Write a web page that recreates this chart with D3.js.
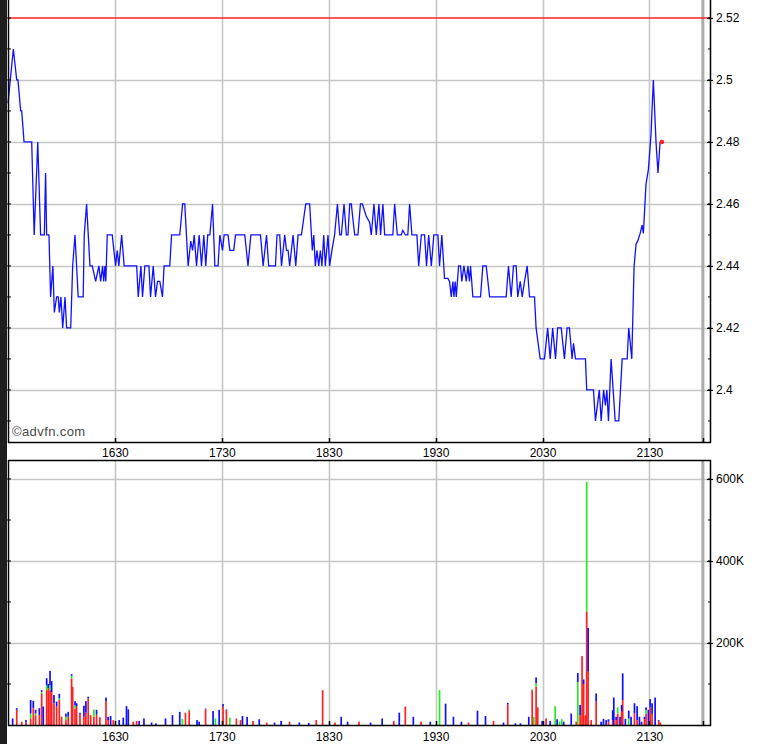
<!DOCTYPE html>
<html>
<head>
<meta charset="utf-8">
<script src="https://cdn.jsdelivr.net/npm/d3@7"></script>
<style>
  html, body { margin: 0; padding: 0; background: #ffffff; }
  svg { display: block; }
  text { font-family: "Liberation Sans", Arial, sans-serif; }
</style>
</head>
<body>
<svg id="chart" width="757" height="744"></svg>
<script>
// ---------------- DATA ----------------
// session: times are minutes after 15:30
const sessionStart = "15:30";
const sessionEnd = "22:04";
const marketClose = "22:00";
const prevClose = 2.52;
const lastPrice = 2.48;
const lastTime = 367;

const priceTimes = [
  0, 3.0, 4.9, 5.6, 7.1, 7.7, 9.0, 13.3, 14.7, 16.7, 18.3, 20.4, 21.1, 21.7, 23.0, 23.9, 25.2, 26.0, 27.3, 28.2,
  28.8, 29.7, 30.7, 32.0, 32.9, 35.2, 36.3, 37.6, 39.4, 42.2, 42.8, 44.1, 46.0, 47.3, 49.2, 51.0, 52.0, 53.1, 53.7, 54.4,
  54.9, 55.7, 58.5, 60.4, 61.3, 62.2, 63.8, 65.2, 72.2, 73.1, 74.6, 75.5, 76.8, 79.1, 80.0, 81.5, 82.8, 83.9, 85.2, 86.7,
  87.6, 90.8, 91.8, 96.4, 98.0, 99.2, 101.1, 102.6, 103.6, 104.5, 105.8, 107.3, 108.6, 109.9, 111.0, 112.1, 113.3, 114.8, 116.1, 117.9,
  118.9, 120.4, 121.3, 123.5, 124.5, 126.7, 127.7, 130.5, 132.9, 134.7, 136.3, 141.7, 143.2, 145.1, 146.3, 150.1, 151.0, 152.5, 153.5, 155.3,
  156.3, 157.2, 158.1, 160.0, 161.5, 162.8, 164.7, 167.1, 169.3, 170.8, 171.6, 172.5, 173.4, 174.4, 175.3, 176.2, 177.2, 178.1, 179.6, 180.5,
  181.8, 183.3, 184.9, 186.2, 187.1, 188.6, 189.9, 190.8, 191.8, 192.7, 193.6, 194.6, 196.4, 197.8, 198.9, 201.1, 203.0, 203.9, 205.4, 206.7,
  208.2, 209.1, 210.4, 211.4, 216.0, 217.0, 218.5, 220.7, 221.6, 223.0, 224.4, 225.4, 226.7, 229.5, 230.5, 232.0, 233.8, 234.9, 236.1, 237.6,
  239.0, 241.3, 242.2, 243.5, 245.0, 246.9, 247.8, 248.8, 249.7, 250.3, 251.0, 251.6, 252.9, 254.0, 254.7, 255.9, 257.2, 258.1, 259.0, 259.6,
  260.9, 265.2, 266.5, 268.4, 270.3, 279.6, 280.9, 282.4, 283.7, 285.2, 286.1, 287.5, 288.6, 289.9, 291.4, 292.7, 295.5, 296.4, 298.7, 301.1,
  302.9, 304.3, 305.7, 307.3, 308.5, 310.5, 312.3, 313.8, 315.1, 316.6, 317.4, 318.5, 324.1, 324.8, 328.6, 329.7, 331.9, 332.9, 334.3, 335.3,
  336.1, 337.0, 338.5, 340.8, 342.8, 344.7, 347.5, 348.4, 350.1, 351.4, 352.5, 353.4, 354.8, 355.9, 356.6, 358.1, 359.4, 360.9, 362.2, 363.7,
  364.8, 366.0
];
const priceValues = [
  2.4925, 2.51, 2.50, 2.50, 2.49, 2.49, 2.48, 2.48, 2.45, 2.48, 2.45, 2.45, 2.47, 2.45, 2.45, 2.43, 2.44, 2.425, 2.43, 2.43,
  2.425, 2.43, 2.42, 2.43, 2.42, 2.42, 2.44, 2.45, 2.43, 2.43, 2.45, 2.46, 2.44, 2.44, 2.435, 2.44, 2.435, 2.44, 2.435, 2.44,
  2.435, 2.45, 2.45, 2.44, 2.445, 2.44, 2.45, 2.44, 2.44, 2.43, 2.44, 2.43, 2.44, 2.44, 2.43, 2.44, 2.43, 2.435, 2.435, 2.43,
  2.44, 2.44, 2.45, 2.45, 2.46, 2.46, 2.44, 2.448, 2.445, 2.45, 2.44, 2.45, 2.44, 2.45, 2.44, 2.45, 2.45, 2.46, 2.44, 2.44,
  2.45, 2.445, 2.45, 2.45, 2.445, 2.445, 2.45, 2.45, 2.45, 2.44, 2.45, 2.45, 2.44, 2.45, 2.44, 2.44, 2.45, 2.45, 2.44, 2.45,
  2.445, 2.445, 2.44, 2.45, 2.44, 2.45, 2.45, 2.46, 2.46, 2.445, 2.45, 2.44, 2.445, 2.44, 2.445, 2.44, 2.45, 2.44, 2.45, 2.44,
  2.445, 2.45, 2.46, 2.45, 2.45, 2.46, 2.45, 2.45, 2.46, 2.46, 2.455, 2.45, 2.45, 2.46, 2.46, 2.456, 2.454, 2.45, 2.46, 2.45,
  2.46, 2.45, 2.46, 2.45, 2.45, 2.46, 2.45, 2.45, 2.4515, 2.45, 2.45, 2.46, 2.45, 2.45, 2.44, 2.45, 2.45, 2.44, 2.45, 2.44,
  2.45, 2.45, 2.44, 2.45, 2.436, 2.436, 2.435, 2.43, 2.435, 2.43, 2.435, 2.43, 2.44, 2.44, 2.435, 2.44, 2.435, 2.44, 2.435, 2.44,
  2.43, 2.43, 2.44, 2.44, 2.43, 2.43, 2.44, 2.43, 2.44, 2.44, 2.43, 2.435, 2.43, 2.435, 2.44, 2.43, 2.43, 2.42, 2.41, 2.41,
  2.42, 2.41, 2.42, 2.41, 2.42, 2.42, 2.41, 2.42, 2.42, 2.41, 2.415, 2.41, 2.41, 2.40, 2.40, 2.39, 2.40, 2.39, 2.40, 2.395,
  2.40, 2.39, 2.41, 2.39, 2.39, 2.41, 2.41, 2.42, 2.41, 2.44, 2.447, 2.448, 2.4505, 2.4532, 2.4505, 2.4665, 2.471, 2.4825, 2.50, 2.48,
  2.47, 2.48
];

// volume (thousands of shares), stacked red / green / blue per time (minutes after 15:30)
const volTimes = [
  2.6, 4.9, 7.7, 10.1, 12.7, 14.2, 15.5, 17.6, 18.9, 19.8, 21.7, 22.6, 23.6, 24.5, 25.8, 27.3, 28.8, 30.1, 32.5, 33.8,
  35.7, 36.3, 37.6, 38.5, 40.4, 42.6, 43.7, 45.0, 46.4, 48.2, 49.7, 51.6, 55.0, 56.2, 57.6, 59.1, 62.4, 64.7, 66.5, 67.5,
  70.3, 72.2, 73.6, 76.3, 80.6, 83.0, 88.4, 92.3, 96.4, 97.9, 99.6, 101.7, 106.1, 107.3, 110.9, 115.1, 116.4, 118.5, 120.7, 122.6,
  124.5, 128.2, 130.5, 131.6, 134.2,
  137.5, 141.0, 145.2, 149.6, 153.3, 158.0, 163.5, 168.8, 173.0, 176.6, 183.5, 187.0, 190.6, 197.0, 203.5, 210.0, 216.5, 219.6, 223.0, 227.5,
  231.8, 237.0, 242.2, 245.6, 250.0, 254.5, 258.5, 263.5, 268.0, 272.5,
  278.1, 280.5, 284.8, 287.6, 292.3, 294.2, 295.1, 296.4, 297.3, 299.8, 302.0, 304.3, 307.1, 308.2, 309.5, 310.8, 311.9, 316.1, 318.9, 319.8,
  321.1, 322.2, 323.1, 324.1, 324.8, 325.6, 327.3, 330.1, 332.9, 334.2, 335.7, 337.0, 339.4, 340.0, 341.3, 342.2, 343.5, 344.4, 345.0, 346.5,
  348.4, 349.7, 351.6, 353.1, 354.4, 355.6, 357.2, 358.1, 359.4, 360.4, 361.5, 363.2, 365.2, 366.1
];
const volRed = [
  0, 37, 8, 6, 16, 41, 24, 24, 77, 0, 85, 90, 85, 80, 53, 45, 61, 20, 12, 20,
  114, 93, 40, 45, 27, 20, 30, 65, 24, 20, 25, 19, 57, 12, 0, 12, 0, 0, 0, 0,
  8, 10, 0, 0, 0, 0, 0, 0, 0, 0, 30, 35, 0, 0, 38, 0, 0, 0, 45, 36,
  0, 16, 12, 0, 0,
  10, 0, 6, 0, 0, 8, 0, 0, 12, 85, 6, 0, 0, 8, 0, 0, 10, 0, 45, 0,
  8, 0, 0, 0, 0, 0, 6, 0, 0, 10,
  0, 50, 0, 0, 0, 85, 0, 94, 43, 0, 16, 0, 0, 0, 0, 0, 0, 0, 8, 0,
  24, 168, 100, 24, 277, 130, 12, 57, 0, 0, 0, 8, 12, 0, 12, 28, 0, 33, 61, 0,
  0, 0, 28, 12, 0, 0, 14, 28, 0, 43, 27, 0, 10, 6
];
const volGreen = [
  0, 0, 0, 0, 12, 0, 4, 0, 4, 0, 12, 0, 12, 0, 0, 0, 4, 0, 8, 0,
  6, 0, 8, 0, 0, 0, 0, 0, 0, 18, 0, 0, 0, 0, 0, 0, 0, 0, 0, 0,
  0, 0, 0, 0, 0, 0, 0, 0, 0, 15, 0, 3, 0, 0, 0, 0, 16, 0, 0, 0,
  18, 0, 0, 0, 0,
  0, 0, 0, 0, 0, 0, 0, 0, 0, 0, 0, 0, 0, 0, 0, 0, 0, 0, 0, 0,
  0, 0, 85, 0, 0, 0, 0, 0, 0, 0,
  0, 0, 0, 0, 0, 2, 20, 8, 0, 0, 0, 0, 46, 0, 8, 14, 0, 0, 0, 105,
  0, 0, 0, 0, 316, 0, 0, 0, 0, 0, 0, 0, 0, 0, 0, 15, 0, 0, 0, 0,
  16, 0, 0, 0, 0, 0, 0, 8, 0, 0, 0, 0, 0, 0
];
const volBlue = [
  16, 4, 0, 6, 33, 18, 9, 17, 4, 45, 17, 10, 35, 27, 20, 12, 11, 0, 8, 12,
  4, 0, 10, 8, 3, 27, 28, 4, 0, 0, 12, 0, 10, 8, 22, 0, 12, 18, 46, 38,
  0, 0, 10, 16, 6, 4, 16, 24, 32, 0, 0, 0, 12, 8, 2, 34, 0, 37, 6, 2,
  0, 0, 0, 22, 20,
  0, 14, 0, 6, 10, 0, 6, 5, 0, 0, 0, 20, 8, 0, 6, 16, 0, 30, 0, 20,
  0, 8, 0, 52, 20, 8, 0, 35, 22, 0,
  6, 4, 4, 4, 20, 0, 0, 14, 0, 10, 0, 10, 0, 14, 0, 0, 8, 28, 0, 22,
  25, 0, 11, 0, 0, 107, 0, 20, 8, 15, 12, 6, 24, 67, 8, 0, 20, 16, 65, 15,
  19, 20, 25, 34, 20, 8, 6, 7, 37, 20, 26, 67, 2, 0
];

const priceTicks = [2.40, 2.42, 2.44, 2.46, 2.48, 2.50, 2.52];
const volTicks = [200, 400, 600];
const timeTickLabels = ["1630", "1730", "1830", "1930", "2030", "2130"];

// ---------------- LAYOUT ----------------
const W = 757, H = 744;
const left = 8, right = 710;
const pTop = 0, pBot = 442;
const vTop = 460, vBot = 725;

const svg = d3.select("#chart");
const parseHM = d3.timeParse("%H:%M");
const t0 = parseHM(sessionStart);
const tAt = m => new Date(t0.getTime() + m * 60000);

const x = d3.scaleTime().domain([t0, parseHM(sessionEnd)]).range([left, right]);
const y = d3.scaleLinear().domain([2.3832, 2.5258]).range([pBot, pTop]);
const yv = d3.scaleLinear().domain([0, 646.3]).range([vBot, vTop]);

const hourTicks = timeTickLabels.map(s => d3.timeParse("%H%M")(s));
const fmtT = d3.timeFormat("%H%M");

svg.append("rect").attr("x", 0).attr("y", 0).attr("width", 7).attr("height", H).attr("fill", "#1e1e1e");

function panel(yTop, yBot, yScale, hTicks) {
  const g = svg.append("g");
  g.selectAll("line.hg").data(hTicks).enter().append("line")
    .attr("x1", left).attr("x2", right)
    .attr("y1", d => Math.round(yScale(d)) + 0.5).attr("y2", d => Math.round(yScale(d)) + 0.5)
    .attr("stroke", "#c3c8c3").attr("stroke-width", 1.6);
  g.selectAll("line.vg").data(hourTicks).enter().append("line")
    .attr("x1", d => Math.round(x(d)) + 0.5).attr("x2", d => Math.round(x(d)) + 0.5)
    .attr("y1", yTop).attr("y2", yBot)
    .attr("stroke", "#c3c8c3").attr("stroke-width", 1.6);
  g.append("line")
    .attr("x1", x(parseHM(marketClose))).attr("x2", x(parseHM(marketClose)))
    .attr("y1", yTop).attr("y2", yBot)
    .attr("stroke", "#a9aca9").attr("stroke-width", 3);
  return g;
}

function frame(yTop, yBot) {
  const g = svg.append("g");
  g.append("line").attr("x1", left + 0.5).attr("x2", left + 0.5).attr("y1", yTop).attr("y2", yBot + 1).attr("stroke", "#000").attr("stroke-width", 1.5);
  g.append("line").attr("x1", right + 0.5).attr("x2", right + 0.5).attr("y1", yTop).attr("y2", yBot + 1).attr("stroke", "#000").attr("stroke-width", 1.5);
  g.append("line").attr("x1", left).attr("x2", right + 1).attr("y1", yBot + 0.5).attr("y2", yBot + 0.5).attr("stroke", "#000").attr("stroke-width", 1.5);
  if (yTop > 0) g.append("line").attr("x1", left).attr("x2", right + 1).attr("y1", yTop + 0.5).attr("y2", yTop + 0.5).attr("stroke", "#000").attr("stroke-width", 1.5);
  g.selectAll("line.bt").data(hourTicks.concat([parseHM(marketClose)])).enter().append("line")
    .attr("x1", d => Math.round(x(d)) + 0.5).attr("x2", d => Math.round(x(d)) + 0.5)
    .attr("y1", yBot - 4).attr("y2", yBot).attr("stroke", "#000").attr("stroke-width", 1.5);
  return g;
}

// ---- price panel ----
panel(pTop, pBot, y, priceTicks.filter(d => d < 2.515));

svg.append("line").attr("x1", left).attr("x2", right)
  .attr("y1", y(prevClose)).attr("y2", y(prevClose))
  .attr("stroke", "#ff2020").attr("stroke-width", 1.5);

const pricePts = priceTimes.map((t, i) => [tAt(t), priceValues[i]]);
svg.append("path").datum(pricePts)
  .attr("fill", "none").attr("stroke", "#1010ff").attr("stroke-width", 1.3)
  .attr("stroke-linejoin", "miter")
  .attr("d", d3.line().x(d => x(d[0])).y(d => y(d[1])));

svg.append("circle").attr("cx", x(tAt(lastTime))).attr("cy", y(lastPrice)).attr("r", 2.3).attr("fill", "#ff2020");

svg.append("text").attr("x", 12).attr("y", 436).attr("font-size", 13).attr("fill", "#4a4a4a")
  .attr("letter-spacing", 0.4).text("©advfn.com");

frame(pTop, pBot);

const minorP = d3.range(2.39, 2.525, 0.01).map(v => +v.toFixed(2));
svg.append("g").attr("transform", `translate(${right},0)`)
  .call(d3.axisRight(y).tickValues(priceTicks).tickSize(3).tickPadding(3).tickFormat(d => String(+d.toFixed(2))))
  .call(g => g.select(".domain").remove())
  .call(g => g.selectAll("text").attr("font-size", 12).attr("fill", "#000").attr("font-family", "Liberation Sans, Arial"))
  .call(g => g.selectAll("line").attr("x1", -3).attr("stroke-width", 1.2));
svg.append("g").selectAll("line").data(minorP).enter().append("line")
  .attr("x1", right - 2).attr("x2", right).attr("y1", d => y(d)).attr("y2", d => y(d)).attr("stroke", "#000");
svg.append("g").selectAll("line").data(minorP).enter().append("line")
  .attr("x1", left - 1).attr("x2", left + 3).attr("y1", d => y(d)).attr("y2", d => y(d)).attr("stroke", "#000");

// ---- volume panel ----
panel(vTop, vBot, yv, volTicks);

const vol = volTimes.map((t, i) => ({ t: tAt(t), r: volRed[i], g: volGreen[i], b: volBlue[i] }));
const series = d3.stack().keys(["r", "g", "b"])(vol);
const colors = { r: "#ff2020", g: "#22ee22", b: "#1010ff" };
const bw = 1.7;
svg.append("g").selectAll("g").data(series).enter().append("g")
  .attr("fill", s => colors[s.key])
  .selectAll("rect").data(s => s.filter(d => d[1] > d[0])).enter().append("rect")
  .attr("x", d => x(d.data.t) - bw / 2).attr("width", bw)
  .attr("y", d => yv(d[1])).attr("height", d => yv(d[0]) - yv(d[1]));

frame(vTop, vBot);

svg.append("g").attr("transform", `translate(${right},0)`)
  .call(d3.axisRight(yv).tickValues(volTicks).tickSize(3).tickPadding(3).tickFormat(d => d + "K"))
  .call(g => g.select(".domain").remove())
  .call(g => g.selectAll("text").attr("font-size", 12).attr("fill", "#000").attr("font-family", "Liberation Sans, Arial"))
  .call(g => g.selectAll("line").attr("x1", -3).attr("stroke-width", 1.2));
const minorV = d3.range(100, 700, 100);
svg.append("g").selectAll("line").data(minorV).enter().append("line")
  .attr("x1", right - 2).attr("x2", right).attr("y1", d => yv(d)).attr("y2", d => yv(d)).attr("stroke", "#000");
svg.append("g").selectAll("line").data(minorV).enter().append("line")
  .attr("x1", left - 1).attr("x2", left + 3).attr("y1", d => yv(d)).attr("y2", d => yv(d)).attr("stroke", "#000");

[[pBot, 6], [vBot, 7]].forEach(([yy, pad]) => {
  svg.append("g").attr("transform", `translate(0,${yy})`)
    .call(d3.axisBottom(x).tickValues(hourTicks).tickSize(0).tickPadding(pad).tickFormat(fmtT))
    .call(g => g.select(".domain").remove())
    .call(g => g.selectAll("text").attr("font-size", 12).attr("fill", "#000").attr("font-family", "Liberation Sans, Arial"));
});
</script>
</body>
</html>
